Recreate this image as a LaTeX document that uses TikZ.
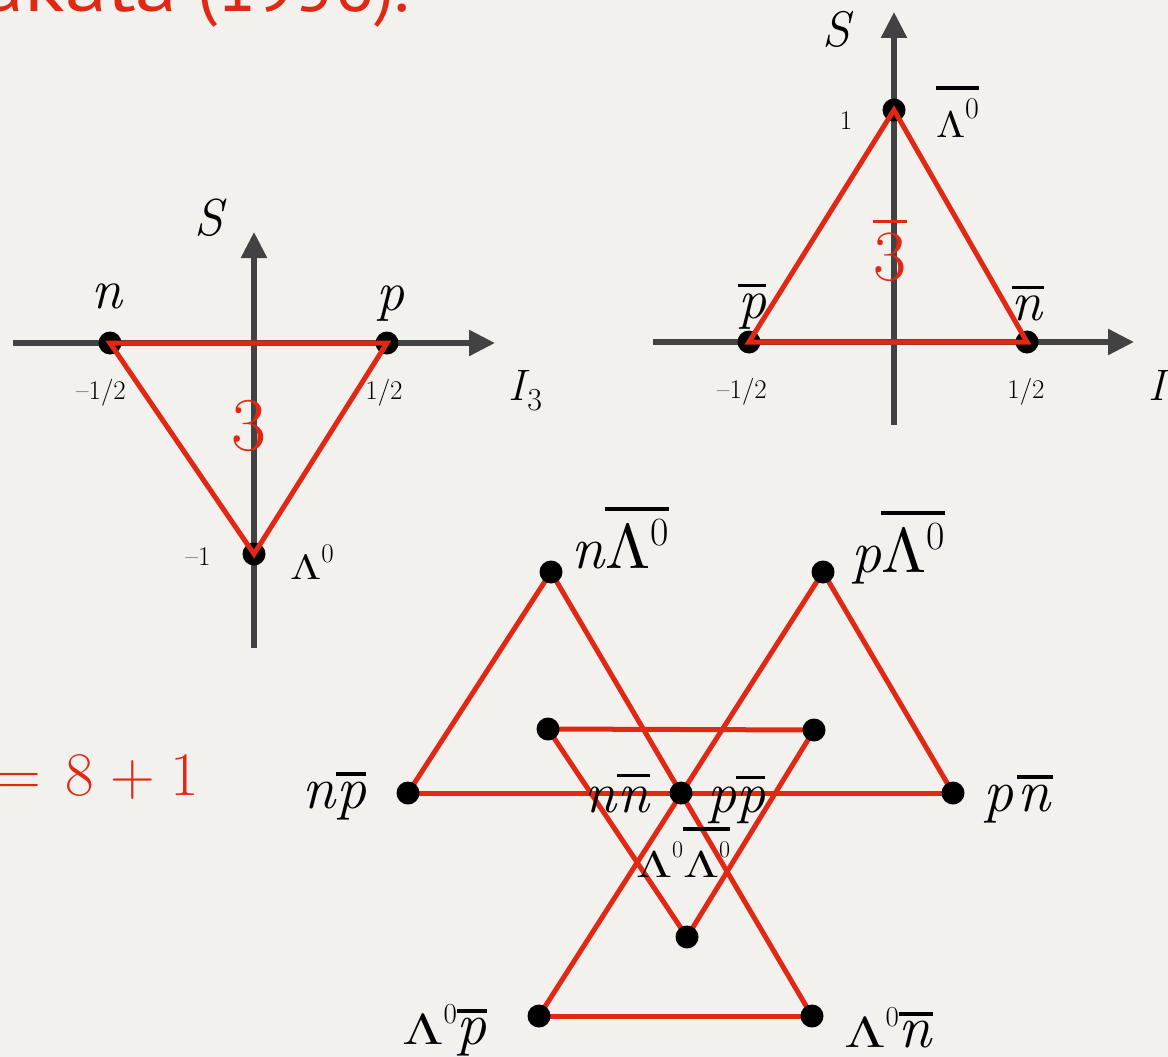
\documentclass[tikz,border=0pt]{standalone}
\usepackage{fontspec}
\usepackage{graphicx}
\newfontfamily\titlefont{PT Sans}
\usetikzlibrary{arrows.meta}
\definecolor{paper}{RGB}{242,241,238}
\definecolor{redl}{RGB}{224,40,20}
\definecolor{axisc}{RGB}{66,66,66}
\newcommand\fs[1]{\fontsize{#1}{#1}\selectfont}
\newcommand\ovl[2][7]{\vbox{\hrule height 3.8pt\kern#1pt\hbox{#2}}}
% Lambda: #1 vertical scale, #2 horizontal scale (of a 10pt glyph)
\newcommand\wL[2]{\scalebox{#2}[#1]{\normalsize$\Lambda$}}
\pgfdeclarelayer{paperlayer}\pgfdeclarelayer{back}
\pgfsetlayers{paperlayer,back,main}
\tikzset{
 dot/.style={circle,fill=black,inner sep=0pt,minimum size=23pt},
 axis/.style={draw=axisc,line width=5.5pt,-{Triangle[length=26pt,width=25pt]}},
 redline/.style={draw=redl,line width=5pt},
 lbl/.style={inner sep=0pt,outer sep=0pt},
}
\begin{document}
\begin{tikzpicture}[x=1pt,y=-1pt]
\begin{pgfonlayer}{paperlayer}
\fill[paper] (0,0) rectangle (1168,1057);
\end{pgfonlayer}
\useasboundingbox (0,0) rectangle (1168,1057);

% title (cut at top and left)
\node[lbl,anchor=base east,text=redl,font=\titlefont\fs{72}] (title) at (410,12) {\scalebox{1.18}[1]{Sakata} (1956).};

% ---------- left diagram: 3 ----------
\coordinate (Lxa) at (13,343); \coordinate (Lxb) at (495,343);
\coordinate (Lya) at (254,648); \coordinate (Lyb) at (254,232);
\draw[axis] (Lxa) -- (Lxb);
\draw[axis] (Lya) -- (Lyb);
\node[dot] (n) at (110,343) {};
\node[dot] (p) at (387,343) {};
\node[dot] (L) at (254,554) {};
\draw[redline] (n.center) -- (p.center) -- (L.center) -- cycle;
\node[lbl,anchor=base,font=\fs{52}] (Sl) at (211,235) {\textit{S}};
\node[lbl,anchor=base west,font=\fs{44}] (I3l) at (508,400) {\textit{I}\kern-2pt\raisebox{-10pt}{\fs{32}3}};
\node[lbl,anchor=base,font=\fs{56}] (nl) at (108,308) {\textit{n}};
\node[lbl,anchor=base,font=\fs{56}] (pl) at (390,310) {\textit{p}};
\node[lbl,font=\fs{27}] (t1) at (101,393) {–1/2};
\node[lbl,font=\fs{27}] (t2) at (384,393) {1/2};
\node[lbl,font=\fs{27}] (t3) at (198,557) {–1};
\node[lbl,anchor=base west] (Ll) at (290,579) {\wL{3.5}{4.5}\raisebox{17pt}{\fs{27}0}};
\node[lbl,anchor=base,text=redl,font=\fs{76}] (three) at (249,450) {3};

% ---------- right diagram: 3bar ----------
\coordinate (Rxa) at (653,342); \coordinate (Rxb) at (1134,342);
\coordinate (Rya) at (894,425); \coordinate (Ryb) at (894,12);
\draw[axis] (Rxa) -- (Rxb);
\draw[axis] (Rya) -- (Ryb);
\node[dot] (pb) at (749,342) {};
\node[dot] (nb) at (1027,342) {};
\node[dot] (Lb) at (894,110) {};
\draw[redline] (pb.center) -- (nb.center) -- (Lb.center) -- cycle;
\node[lbl,anchor=base,font=\fs{50}] (Sr) at (838,47) {\textit{S}};
\node[lbl,font=\fs{27}] (t4) at (846,121) {1};
\node[lbl,anchor=base west] (Lbl) at (936,137) {\ovl[8]{\wL{3.7}{4.2}\raisebox{19pt}{\fs{30}0}}};
\node[lbl,anchor=base,font=\fs{56}] (pbl) at (752,318) {\ovl[6]{\textit{p}}};
\node[lbl,anchor=base,font=\fs{56}] (nbl) at (1028,320) {\ovl[6]{\textit{n}}};
\node[lbl,font=\fs{27}] (t5) at (742,392) {–1/2};
\node[lbl,font=\fs{27}] (t6) at (1026,392) {1/2};
\node[lbl,anchor=base,text=redl,font=\fs{72}] (threeb) at (890,280) {\ovl[9]{3}};
\node[lbl,anchor=base west,font=\fs{44}] (I3r) at (1148,400) {\textit{I}\kern-2pt\raisebox{-10pt}{\fs{32}3}};

% ---------- bottom: 3 x 3bar = 8 + 1 ----------
\node[lbl,anchor=base west,text=redl,font=\fs{62}] (eq) at (-3,795) {=\kern24pt 8\kern16pt +\kern16pt 1};

\node[dot] (A) at (551,572) {};
\node[dot] (B) at (823,572) {};
\node[dot] (C) at (408,793) {};
\node[dot] (D) at (953,793) {};
\node[dot] (O) at (681,793) {};
\node[dot] (E) at (539,1016) {};
\node[dot] (F) at (812,1016) {};
\node[dot] (G) at (548,729) {};
\node[dot] (H) at (814,730) {};
\node[dot] (K) at (687,937) {};
\begin{pgfonlayer}{back}
\draw[redline] (C.center) -- (A.center) -- (F.center);
\draw[redline] (D.center) -- (B.center) -- (E.center);
\draw[redline] (C.center) -- (D.center);
\draw[redline] (E.center) -- (F.center);
\draw[redline] (G.center) -- (H.center) -- (K.center) -- cycle;
\end{pgfonlayer}

\node[lbl,anchor=base west,font=\fs{60}] (Al) at (571,568) {\textit{n}\ovl[8]{\wL{6.3}{6.5}\raisebox{23pt}{\fs{40}0}}};
\node[lbl,anchor=base west,font=\fs{60}] (Bl) at (851,572) {\textit{p}\ovl[8]{\wL{6.3}{6.5}\raisebox{23pt}{\fs{40}0}}};
\node[lbl,anchor=base west,font=\fs{60}] (Cl) at (302,808) {\textit{n}\ovl[6]{\textit{p}}};
\node[lbl,anchor=base west,font=\fs{60}] (Dl) at (983,811) {\textit{p}\kern4pt\ovl[6]{\textit{n}\kern2pt}};
\node[lbl,anchor=base west,font=\fs{58}] (Ol1) at (584,812) {\textit{n}\ovl[9]{\textit{n}}};
\node[lbl,anchor=base west,font=\fs{58}] (Ol2) at (707,812) {\textit{p}\ovl[7]{\textit{p}}};
\node[lbl,anchor=base west] (Ol3) at (636,877) {\wL{3.7}{5.2}\raisebox{20pt}{\fs{24}0}\ovl[10]{\wL{3.7}{5.2}\raisebox{20pt}{\fs{24}0}}};
\node[lbl,anchor=base west,font=\fs{60}] (El) at (402,1044) {\wL{4.3}{6.0}\raisebox{21pt}{\fs{29}0}\ovl[5]{\textit{p}}};
\node[lbl,anchor=base west,font=\fs{60}] (Fl) at (844,1047) {\wL{4.3}{6.0}\raisebox{21pt}{\fs{29}0}\ovl[5]{\textit{n}}};
\end{tikzpicture}
\end{document}
